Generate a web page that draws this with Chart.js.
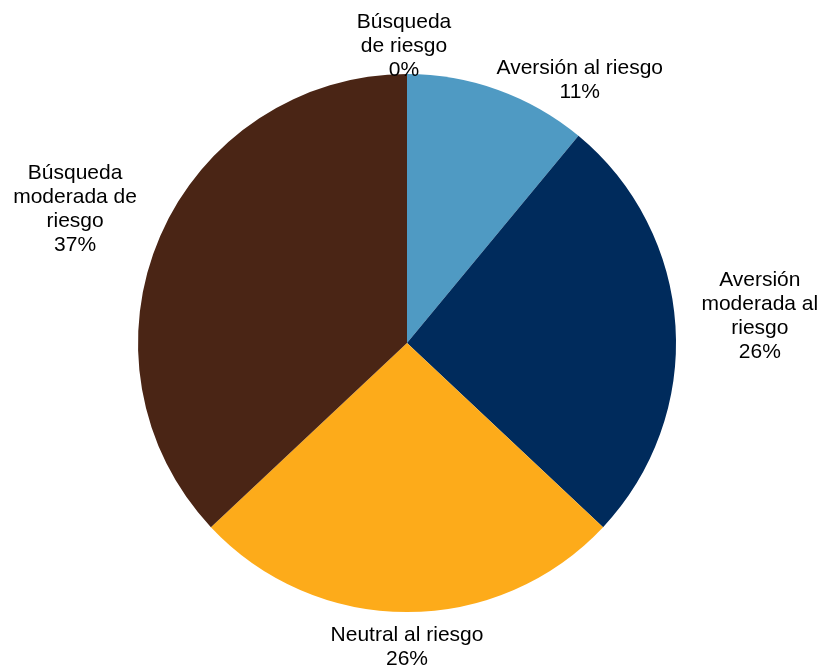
<!DOCTYPE html>
<html>
<head>
<meta charset="utf-8">
<script src="https://cdn.jsdelivr.net/npm/chart.js@4"></script>
<style>
    html, body { margin: 0; padding: 0; background: #ffffff; }
    #wrap { width: 825px; height: 666px; position: relative; }
</style>
</head>
<body>
<div id="wrap"><canvas id="graficoPerfil"></canvas></div>
<script>
// perfiles de riesgo, en el orden en que se dibujan (desde arriba, sentido horario)
const perfiles = [
    ['Aversión al riesgo'],
    ['Aversión', 'moderada al', 'riesgo'],
    ['Neutral al riesgo'],
    ['Búsqueda', 'moderada de', 'riesgo'],
    ['Búsqueda', 'de riesgo'],
];
const porcentajes = [11, 26, 26, 37, 0];
const colores = ['#4f9ac3', '#002b5c', '#fdab1a', '#4a2515', '#8c8c8c'];

// ajuste fino de cada etiqueta (px) respecto a su punto de anclaje
const ajusteEtiquetas = [
    [-5, 0],
    [16, -9],
    [0, 1],
    [-14, -23],
    [-3, 18],
];

const etiquetasFuera = {
    id: 'etiquetasFuera',
    afterDatasetsDraw(chart) {
        const ctx = chart.ctx;
        const meta = chart.getDatasetMeta(0);
        const tam = 21;
        const alto = 24;
        ctx.save();
        ctx.font = tam + 'px "Liberation Sans", Arial, sans-serif';
        ctx.fillStyle = '#000000';
        ctx.textAlign = 'center';
        ctx.textBaseline = 'middle';
        meta.data.forEach((arco, i) => {
            const p = arco.getProps(['x', 'y', 'startAngle', 'endAngle', 'outerRadius'], true);
            const ang = (p.startAngle + p.endAngle) / 2;
            const r = p.outerRadius + 10;
            const ax = p.x + Math.cos(ang) * r;
            const ay = p.y + Math.sin(ang) * r;
            const lineas = perfiles[i].concat([porcentajes[i] + '%']);
            const ancho = Math.max(...lineas.map(t => ctx.measureText(t).width));
            const altoBloque = lineas.length * alto;
            let cx, cy;
            if (Math.abs(Math.cos(ang)) < 0.3) {
                cx = ax;
                cy = Math.sin(ang) < 0 ? ay - altoBloque / 2 : ay + altoBloque / 2;
            } else {
                cx = Math.cos(ang) > 0 ? ax + ancho / 2 : ax - ancho / 2;
                cy = ay;
            }
            cx += ajusteEtiquetas[i][0];
            cy += ajusteEtiquetas[i][1];
            const y0 = cy - altoBloque / 2 + alto / 2;
            lineas.forEach((t, k) => ctx.fillText(t, cx, y0 + k * alto));
        });
        ctx.restore();
    }
};

const data = {
    labels: perfiles.map(p => p.join(' ')),
    datasets: [{
        data: porcentajes,
        backgroundColor: colores,
        borderWidth: 0,
    }]
};

const config = {
    type: 'pie',
    data: data,
    options: {
        responsive: true,
        maintainAspectRatio: false,
        animation: false,
        layout: { padding: { top: 74, bottom: 54, left: 138, right: 149 } },
        plugins: {
            legend: { display: false },
            tooltip: { enabled: false },
        },
    },
    plugins: [etiquetasFuera],
};

new Chart(document.getElementById('graficoPerfil'), config);
</script>
</body>
</html>
